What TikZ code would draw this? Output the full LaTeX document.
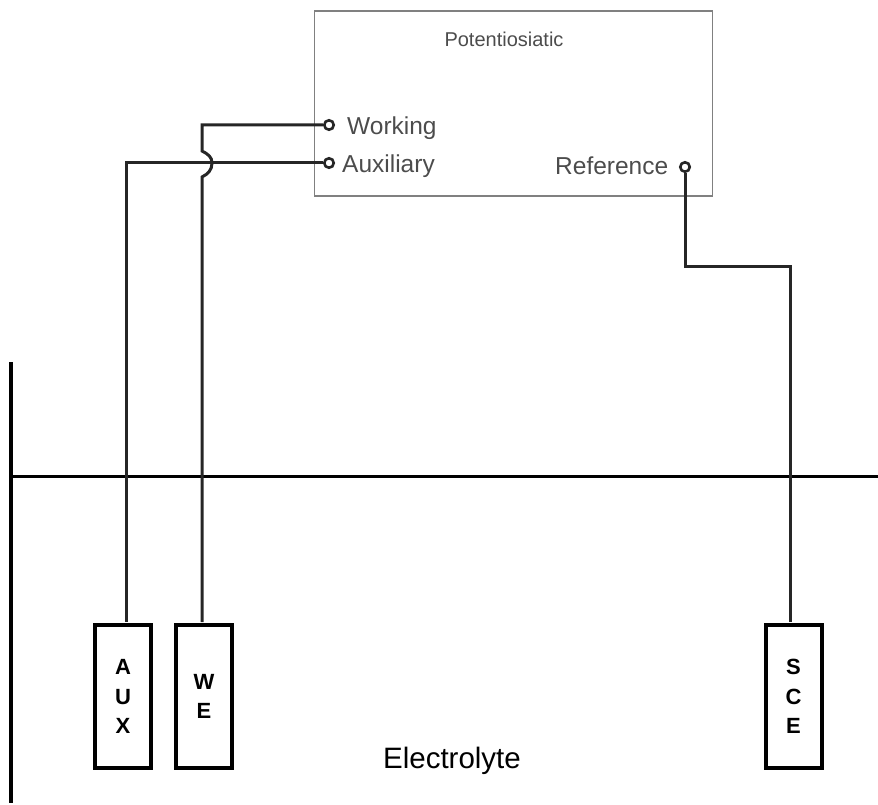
\documentclass[tikz,border=0pt]{standalone}
\usepackage{fontspec}
\setmainfont{Liberation Sans}
\newcommand{\pxf}[2]{\fontsize{#1}{#2}\selectfont}
\begin{document}
\begin{tikzpicture}[x=1pt,y=-1pt,
  wire/.style={line width=3pt,draw=black!85,line join=miter},
  thick line/.style={line width=3pt,draw=black},
  electrode/.style={draw=black,line width=4pt,fill=white,minimum width=56pt,minimum height=143pt,inner sep=0pt,align=center,font=\pxf{22}{29.5}\bfseries},
  terminal/.style={circle,draw=black!85,line width=2.6pt,fill=white,minimum size=9.5pt,inner sep=0pt},
  label text/.style={text=black!70,font=\pxf{24.5}{26},inner sep=0pt,anchor=base west},
]
\useasboundingbox (0,0) rectangle (878,805);
\node[draw=black!50,line width=1.7pt,minimum width=398pt,minimum height=184.5pt,inner sep=0pt] (pot) at (513.5,103.5) {};
\node[text=black!70,font=\pxf{20}{22},inner sep=0pt] (title) at (504,39) {Potentiosiatic};
\node[label text] (wlab) at (347,135) {Working};
\node[label text] (alab) at (342,173) {Auxiliary};
\node[label text] (rlab) at (555,175) {Reference};
\node[terminal] (wt) at (329,125) {};
\node[terminal] (at) at (329,163) {};
\node[terminal] (rt) at (685,167) {};
\node[font=\pxf{29.5}{31},inner sep=0pt] (elec) at (452,761) {Electrolyte};
\coordinate (hl) at (12,476);
\coordinate (hr) at (878,476);
\coordinate (vt) at (11,362);
\coordinate (vb) at (11,803);
\draw[thick line] (hl) -- (hr);
\draw[line width=4pt] (vt) -- (vb);
\node[electrode] (aux) at (123,696.5) {A\\U\\X};
\node[electrode] (we) at (204,696.5) {W\\E};
\node[electrode] (sce) at (793.5,696.5) {S\\C\\E};
\draw[wire] (at.west) -- (126,163) -- (126,622);
\draw[wire] (wt.west) -- (202,125) -- (202,151) .. controls (208,154) and (212,157) .. (212,163) .. controls (212,170) and (208,174) .. (202,177) -- (202,622);
\draw[wire] (rt.south) -- (685,266) -- (790,266) -- (790,622);
\end{tikzpicture}
\end{document}
